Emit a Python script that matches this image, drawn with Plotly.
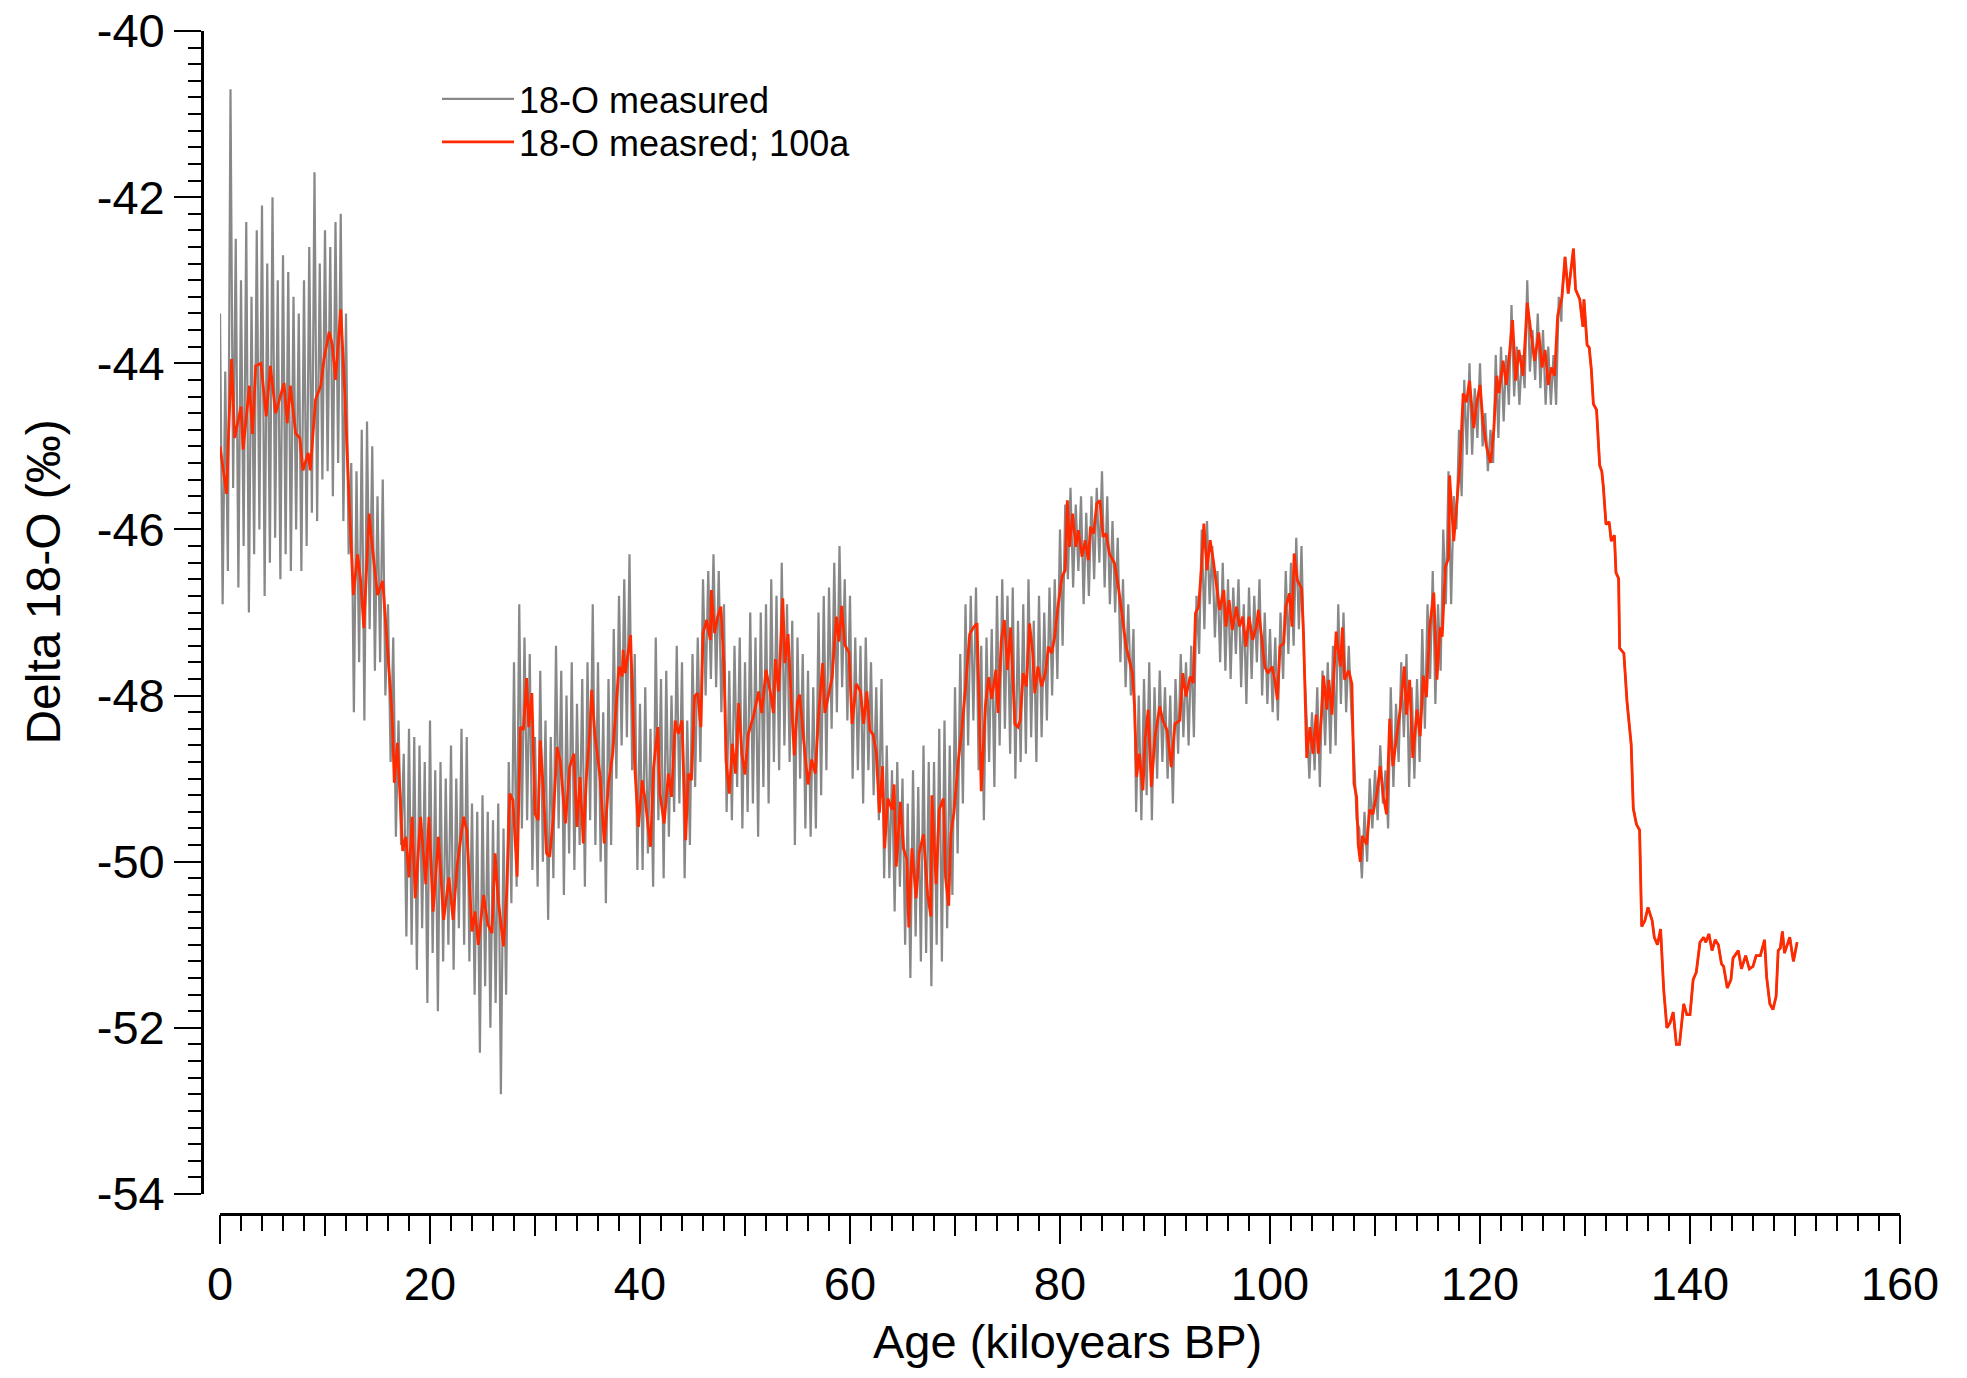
import plotly.graph_objects as go

# ---------------- data ----------------
# 100-year smoothed series (red): age in ka BP, delta 18-O in permil
red_age = [0.0, 0.63, 0.8, 1.1, 1.4, 2.0, 2.2, 2.8, 3.1, 3.4, 3.9, 4.4, 4.8, 5.3, 6.1, 6.4, 6.7, 7.2, 7.6, 7.9,
           8.4, 8.6, 9.1, 9.6, 9.9, 10.4, 10.7, 11.0, 11.5, 11.8, 12.3, 12.7, 13.1, 13.4, 13.7, 14.2, 14.5, 15.0, 15.5, 15.8,
           16.1, 16.4, 16.6, 16.9, 17.4, 17.7, 18.0, 18.3, 18.6, 19.1, 19.6, 19.9, 20.3, 20.8, 21.3, 21.8, 22.2, 22.6, 23.2, 23.5,
           24.0, 24.3, 24.6, 25.1, 25.5, 25.9, 26.2, 26.5, 27.0, 27.3, 27.6, 27.9, 28.3, 28.6, 28.9, 29.2, 29.4, 29.7, 30.0, 30.3,
           30.5, 30.8, 31.1, 31.4, 31.75, 32.1, 32.4, 32.9, 33.3, 33.7, 34.0, 34.3, 34.6, 34.9, 35.2, 35.4, 35.7, 36.2, 36.6, 37.0,
           37.4, 37.8, 38.0, 38.3, 38.4, 38.6, 39.1, 39.3, 39.5, 39.85, 40.2, 40.5, 41.0, 41.3, 41.7, 41.9, 42.3, 42.7, 43.0, 43.35,
           43.65, 44.0, 44.35, 44.6, 44.9, 45.2, 45.5, 45.8, 46.0, 46.35, 46.7, 46.8, 47.1, 47.4, 47.7, 48.0, 48.2, 48.5, 48.8, 49.1,
           49.4, 49.7, 50.0, 50.3, 50.8, 51.3, 51.6, 52.0, 52.4, 52.7, 52.9, 53.2, 53.6, 53.8, 54.1, 54.4, 54.7, 55.0, 55.2, 55.6,
           56.0, 56.35, 56.7, 57.0, 57.4, 57.6, 58.0, 58.3, 58.7, 58.95, 59.2, 59.5, 59.9, 60.2, 60.6, 61.0, 61.3, 61.6, 61.9, 62.2,
           62.5, 62.8, 63.1, 63.3, 63.6, 64.0, 64.2, 64.4, 64.8, 65.1, 65.4, 65.6, 65.9, 66.3, 66.6, 67.0, 67.4, 67.7, 67.8, 68.2,
           68.5, 68.9, 69.1, 69.4, 69.6, 69.9, 70.3, 70.6, 71.0, 71.2, 71.4, 71.75, 72.1, 72.3, 72.5, 72.9, 73.2, 73.5, 73.9, 74.1,
           74.4, 74.7, 75.0, 75.3, 75.7, 76.0, 76.2, 76.5, 76.8, 77.1, 77.4, 77.6, 77.9, 78.25, 78.6, 78.9, 79.2, 79.5, 79.8, 80.2,
           80.5, 80.7, 80.9, 81.2, 81.5, 81.75, 82.1, 82.4, 82.7, 82.9, 83.2, 83.5, 83.8, 84.1, 84.4, 84.7, 85.2, 85.6, 85.8, 86.0,
           86.3, 86.6, 86.9, 87.1, 87.3, 87.55, 87.9, 88.1, 88.4, 88.7, 89.05, 89.5, 89.8, 90.2, 90.6, 90.95, 91.4, 91.7, 92.0, 92.4,
           92.7, 92.9, 93.2, 93.5, 93.7, 94.0, 94.3, 94.6, 94.9, 95.2, 95.6, 95.8, 96.1, 96.4, 96.8, 97.1, 97.4, 97.7, 98.0, 98.35,
           98.7, 98.9, 99.2, 99.5, 99.8, 100.2, 100.5, 100.7, 100.95, 101.3, 101.5, 101.85, 102.1, 102.3, 102.6, 103.0, 103.2, 103.5, 103.8, 104.1,
           104.4, 104.6, 104.9, 105.1, 105.4, 105.6, 105.9, 106.1, 106.3, 106.7, 106.9, 107.1, 107.5, 107.8, 108.0, 108.25, 108.4, 108.6, 108.8, 109.2,
           109.5, 109.8, 110.2, 110.5, 110.8, 111.1, 111.4, 111.7, 112.1, 112.4, 112.8, 113.0, 113.3, 113.6, 114.0, 114.3, 114.6, 114.9, 115.2, 115.6,
           115.9, 116.2, 116.4, 116.7, 117.0, 117.1, 117.5, 117.8, 118.1, 118.4, 118.7, 119.0, 119.4, 119.7, 120.0, 120.3, 120.6, 121.0, 121.3, 121.6,
           121.8, 122.2, 122.5, 122.8, 123.1, 123.4, 123.7, 124.1, 124.5, 124.9, 125.2, 125.6, 125.9, 126.2, 126.5, 126.8, 127.1, 127.4, 127.8, 128.1,
           128.4, 128.9, 129.1, 129.5, 129.8, 129.9, 130.2, 130.4, 130.6, 130.8, 131.1, 131.4, 131.6, 131.75, 132.0, 132.3, 132.5, 132.8, 132.95, 133.2,
           133.3, 133.7, 134.0, 134.4, 134.6, 134.9, 135.2, 135.4, 135.7, 136.0, 136.4, 136.6, 136.9, 137.2, 137.5, 137.8, 138.1, 138.4, 138.7, 139.0,
           139.4, 139.7, 140.0, 140.3, 140.6, 140.95, 141.3, 141.5, 141.8, 142.1, 142.4, 142.7, 143.0, 143.2, 143.55, 143.9, 144.1, 144.6, 144.9, 145.3,
           145.65, 146.0, 146.3, 146.7, 147.1, 147.3, 147.6, 147.9, 148.2, 148.4, 148.6, 148.8, 149.0, 149.5, 149.85, 150.2]
red_d18o = [-45.0, -45.57, -44.9, -43.95, -44.9, -44.52, -45.04, -44.27, -44.85, -44.03, -44.0, -44.64, -44.03, -44.6, -44.24, -44.72, -44.27, -44.84, -44.9, -45.29,
            -45.08, -45.29, -44.44, -44.27, -43.95, -43.62, -43.78, -44.2, -43.35, -44.12, -45.65, -46.79, -46.3, -46.62, -47.19, -45.81, -46.2, -46.79, -46.62, -47.19,
            -47.76, -48.25, -49.05, -48.57, -49.87, -49.7, -50.19, -49.46, -50.44, -49.46, -50.27, -49.46, -50.6, -49.7, -50.7, -50.19, -50.7, -50.03, -49.46, -49.62,
            -50.84, -50.6, -51.0, -50.4, -50.75, -50.86, -49.9, -50.46, -51.02, -50.38, -49.18, -49.26, -50.18, -48.38, -48.41, -47.79, -48.38, -47.97, -49.42, -49.5,
            -48.54, -49.14, -49.9, -49.94, -49.46, -48.62, -48.78, -49.54, -48.86, -48.7, -49.58, -48.98, -49.78, -48.98, -48.46, -47.93, -48.46, -48.98, -49.78, -49.06,
            -48.7, -48.05, -47.65, -47.77, -47.45, -47.73, -47.27, -48.05, -48.86, -49.58, -49.02, -49.26, -49.82, -48.86, -48.38, -49.18, -49.54, -48.94, -49.22, -48.3,
            -48.46, -48.3, -49.74, -48.94, -49.02, -48.01, -47.97, -48.38, -47.25, -47.09, -47.33, -46.73, -47.25, -47.05, -46.93, -47.65, -48.78, -49.18, -48.58, -48.94,
            -48.09, -48.7, -48.95, -48.47, -48.25, -47.95, -48.21, -47.69, -47.95, -48.21, -47.56, -47.95, -46.83, -47.61, -47.26, -48.04, -48.72, -48.08, -47.99, -48.55,
            -49.07, -48.77, -48.94, -48.25, -47.61, -48.21, -47.95, -47.78, -47.05, -47.35, -46.92, -47.39, -47.48, -48.34, -47.86, -47.95, -48.34, -47.95, -48.42, -48.47,
            -48.68, -49.41, -48.85, -49.84, -49.24, -49.37, -49.07, -50.06, -49.28, -49.84, -49.97, -50.79, -49.84, -50.44, -49.89, -49.67, -50.4, -50.66, -49.2, -50.27,
            -49.37, -49.24, -50.19, -50.53, -49.67, -49.41, -48.81, -48.47, -47.91, -47.61, -47.26, -47.18, -47.13, -48.12, -49.15, -48.12, -47.78, -48.04, -47.69, -48.21,
            -47.35, -47.09, -47.69, -47.18, -48.34, -48.38, -48.3, -47.73, -47.89, -47.13, -47.49, -47.97, -47.65, -47.89, -47.73, -47.41, -47.49, -47.29, -46.93, -46.57,
            -46.49, -45.65, -46.21, -45.81, -46.21, -46.01, -46.33, -46.13, -46.37, -45.97, -46.05, -45.69, -45.65, -46.09, -46.05, -46.29, -46.41, -46.73, -46.93, -47.13,
            -47.41, -47.57, -47.73, -48.13, -48.98, -48.7, -49.14, -48.54, -48.17, -49.1, -48.5, -48.13, -48.3, -48.42, -48.86, -48.34, -48.3, -47.73, -48.01, -47.77,
            -47.85, -47.01, -46.93, -46.41, -45.93, -46.49, -46.13, -46.37, -46.69, -46.97, -46.73, -47.17, -46.85, -47.21, -46.93, -47.17, -47.05, -47.41, -47.05, -47.33,
            -47.17, -46.97, -47.29, -47.65, -47.73, -47.65, -47.85, -48.05, -47.41, -47.37, -46.93, -46.77, -47.17, -46.29, -46.61, -46.71, -47.29, -48.75, -48.38, -48.7,
            -48.23, -48.7, -48.23, -47.76, -48.17, -47.81, -48.23, -47.76, -47.23, -47.65, -47.18, -47.81, -47.7, -47.86, -49.06, -49.22, -49.79, -50.0, -49.69, -49.79,
            -49.37, -49.43, -49.16, -48.85, -49.22, -49.43, -48.28, -48.85, -48.43, -48.17, -47.65, -48.23, -47.81, -48.75, -48.17, -48.49, -47.76, -48.02, -47.18, -46.76,
            -47.81, -47.18, -47.29, -46.45, -46.35, -45.35, -46.14, -45.62, -45.2, -44.36, -44.47, -44.21, -44.78, -44.47, -44.26, -44.73, -44.99, -45.2, -44.83, -44.15,
            -44.36, -43.97, -44.26, -43.89, -43.48, -44.21, -43.84, -44.15, -43.27, -43.68, -43.97, -43.63, -44.05, -43.84, -44.26, -44.05, -44.15, -43.42, -43.21, -42.72,
            -43.16, -42.62, -43.11, -43.23, -43.56, -43.23, -43.78, -43.81, -44.07, -44.49, -44.56, -45.23, -45.3, -45.49, -45.94, -45.91, -46.14, -46.07, -46.52, -46.59,
            -47.43, -47.49, -48.07, -48.59, -49.36, -49.55, -49.62, -50.78, -50.71, -50.55, -50.71, -50.91, -51.0, -50.81, -51.55, -52.0, -51.94, -51.81, -52.2, -52.2,
            -51.71, -51.84, -51.84, -51.42, -51.33, -50.97, -50.91, -50.97, -50.87, -51.07, -50.94, -51.0, -51.23, -51.26, -51.52, -51.42, -51.16, -51.07, -51.29, -51.13,
            -51.29, -51.26, -51.13, -51.13, -50.94, -51.39, -51.71, -51.78, -51.62, -51.07, -51.04, -50.84, -51.1, -50.91, -51.2, -50.97]

# Measured series (grey): upper spikes at ages 0, 0.5, 1.0 ... and lower spikes at 0.25, 0.75 ...
gray_step_ka = 0.25
gray_hi = [-43.4, -44.1, -40.7, -42.5, -43.0, -42.3, -43.2, -42.4, -42.1, -42.8, -42.0, -43.0, -42.7, -42.9, -43.2, -43.4,
           -43.0, -42.6, -41.7, -42.8, -42.4, -42.6, -42.3, -42.2,
           -43.4, -45.2, -45.3, -44.8, -44.7, -45.0, -45.6, -45.4, -46.9, -47.3,
           -48.3, -48.7, -48.4, -48.5, -48.6, -48.8, -48.3, -48.9, -48.8, -49.0, -48.6, -49.0, -48.4, -48.5, -49.3, -49.4,
           -49.2, -49.4, -49.5, -49.3, -49.6, -48.8,
           -47.6, -46.9, -47.3, -47.5,
           -48.5, -47.7, -48.3, -48.5, -47.4, -47.7, -48.0, -47.6, -48.1, -47.8, -47.6, -46.9, -47.6, -48.2,
           -47.8, -47.2, -46.8, -46.6, -46.3, -47.5,
           -48.1, -47.9, -48.4, -47.3, -47.8, -47.7, -48.0, -47.4, -47.6, -48.3, -47.5,
           -47.3, -46.6, -46.5, -46.3, -46.5, -46.9, -47.7, -47.4, -47.3, -47.6,
           -47.0, -47.3, -47.0, -46.9, -46.6, -46.8, -46.4, -46.9, -47.1, -47.3, -47.5, -47.7, -47.9, -47.0,
           -46.8, -46.7, -46.4, -46.2, -46.6, -46.8, -47.3, -47.4, -47.3, -47.6, -47.9, -47.8,
           -48.6, -48.9, -48.8, -49.0, -49.3, -48.9, -49.1, -48.6, -48.8, -48.8, -48.4, -48.3, -48.6, -47.9,
           -47.5, -46.9, -46.8, -46.7, -47.4, -47.3, -47.2, -46.8, -46.6, -46.8, -46.7, -47.1,
           -46.9, -46.6, -47.1, -46.8, -47.0, -46.7, -46.6, -46.0,
           -45.7, -45.5, -45.7, -45.6, -45.8, -45.6, -45.5, -45.3, -45.6, -45.9, -46.1, -46.6, -46.9, -47.2,
           -48.0, -47.8, -47.6, -47.9, -47.7, -47.9, -48.0, -47.8, -47.5, -47.6, -47.4, -46.8,
           -46.0, -45.9, -46.2, -46.5, -46.4, -46.6, -46.7, -46.6, -46.9, -46.7, -46.8, -46.6, -47.0, -47.2, -47.3, -47.0,
           -46.5, -46.4, -46.1, -46.2,
           -48.3, -48.2, -47.9, -47.7, -47.6, -47.4, -46.9, -47.0, -47.4, -48.7, -49.6, -49.4, -49.0, -48.9, -48.6, -48.9,
           -47.9, -48.1, -47.6, -47.5,
           -47.9, -47.8, -47.2, -46.9, -46.5, -46.9, -46.0, -45.3, -45.6, -44.8, -44.2, -44.0, -44.3, -44.0, -44.6, -44.8,
           -43.9, -43.8, -43.9, -43.3,
           -43.8, -43.9, -43.0, -43.6, -43.4, -43.6, -43.8, -43.9, -43.2]
gray_lo = [-46.9, -46.5, -45.5, -46.7, -46.2, -47.0, -46.3, -46.0, -46.8, -46.4, -46.1, -46.6, -46.3, -46.5, -46.0, -46.5,
           -46.2, -45.8, -45.9, -45.4, -45.3, -45.6, -45.2, -45.9,
           -46.3, -48.2, -47.6, -48.3, -47.2, -47.7, -47.6, -48.0, -48.8, -49.7,
           -49.8, -50.9, -51.0, -51.3, -50.8, -51.7, -51.1, -51.8, -51.2, -51.0, -51.3, -50.8, -51.0, -51.2, -51.6, -52.3,
           -51.5, -52.0, -51.7, -52.8, -51.6, -50.5,
           -50.3, -49.6, -49.5, -50.1,
           -50.3, -50.0, -50.7, -50.2, -49.6, -50.4, -49.9, -50.1, -49.8, -50.3, -49.5, -49.8, -50.0, -50.5,
           -49.8, -49.0, -48.6, -48.5, -48.9, -50.1,
           -50.1, -49.9, -50.3, -49.5, -50.2, -49.7, -49.4, -49.3, -50.2, -49.8, -49.1,
           -48.8, -48.0, -47.8, -47.9, -48.2, -49.4, -49.5, -49.1, -49.6, -49.4,
           -49.3, -49.7, -49.1, -49.3, -48.8, -48.9, -48.6, -48.8, -49.8, -49.0, -49.6, -49.7, -49.6, -49.2,
           -48.9, -48.4, -48.2, -47.9, -48.3, -49.0, -48.9, -49.3, -48.9, -49.2, -49.5, -50.2,
           -50.2, -50.6, -50.3, -51.0, -51.4, -50.9, -51.2, -51.1, -51.5, -51.0, -51.2, -50.8, -50.4, -49.9,
           -49.3, -48.6, -48.3, -48.9, -49.5, -48.8, -49.1, -48.6, -48.4, -48.7, -49.0, -48.8,
           -48.7, -48.5, -48.8, -48.5, -48.3, -48.0, -47.8, -47.4,
           -46.6, -46.7, -46.5, -46.9, -46.8, -46.6, -46.4, -46.7, -46.9, -47.0, -47.6, -47.9, -48.0, -49.4,
           -49.5, -49.2, -49.5, -49.0, -48.8, -49.0, -49.3, -48.7, -48.5, -48.6, -48.5, -47.5,
           -47.2, -46.9, -47.3, -47.6, -47.7, -47.8, -47.5, -47.9, -48.1, -47.8, -47.6, -48.0, -48.1, -48.2, -48.3, -47.8,
           -47.5, -47.4, -47.2, -47.6,
           -49.0, -48.9, -49.1, -48.6, -48.7, -48.6, -48.1, -48.2, -48.2, -49.5, -50.2, -50.0, -49.6, -49.5, -49.3, -49.6,
           -49.1, -48.8, -48.5, -49.1,
           -49.0, -48.8, -48.4, -47.8, -48.1, -47.7, -46.9, -46.9, -46.0, -45.6, -45.1, -45.1, -44.9, -45.0, -45.3, -45.2,
           -44.9, -44.7, -44.5, -44.4,
           -44.5, -44.3, -44.1, -44.2, -44.3, -44.5, -44.5, -44.5, -43.5]

x_tick_values = [0, 20, 40, 60, 80, 100, 120, 140, 160]
x_tick_labels = ["0", "20", "40", "60", "80", "100", "120", "140", "160"]
y_tick_values = [-54, -52, -50, -48, -46, -44, -42, -40]
y_tick_labels = ["-54", "-52", "-50", "-48", "-46", "-44", "-42", "-40"]

# ---------------- build the grey series ----------------
gray_age, gray_val = [], []
for k, (hi, lo) in enumerate(zip(gray_hi, gray_lo)):
    gray_age += [2 * k * gray_step_ka, (2 * k + 1) * gray_step_ka]
    gray_val += [hi, lo]
last_gray_age = gray_age[-1]
for a, v in zip(red_age, red_d18o):
    if a > last_gray_age:
        gray_age.append(a)
        gray_val.append(v)

FONT = "Liberation Sans, Arial, Helvetica, sans-serif"

fig = go.Figure()
fig.add_trace(go.Scatter(x=gray_age, y=gray_val, mode="lines", name="18-O measured",
                         line=dict(color="#888888", width=2.2), legend="legend"))
fig.add_trace(go.Scatter(x=red_age, y=red_d18o, mode="lines", name="18-O measred; 100a",
                         line=dict(color="#ff2a00", width=2.8), legend="legend2"))
# invisible helper trace on an overlay axis to draw the 10-ka intermediate ticks
fig.add_trace(go.Scatter(x=[0, 160], y=[-54, -54], xaxis="x2", mode="lines",
                         line=dict(width=0), showlegend=False, hoverinfo="skip"))

# the page body adds an 8 px margin on every side, so the figure is 16 px smaller
W, H = 1951, 1362
ml, mr, mt, mb = 194, 59, 23, 156
pw, ph = W - ml - mr, H - mt - mb
xd0 = 18 / pw
yd0 = 20 / ph

legend_common = dict(xanchor="left", yanchor="top", font=dict(size=36, family=FONT),
                     bgcolor="rgba(0,0,0,0)", itemwidth=72, borderwidth=0)

fig.update_layout(
    width=W, height=H,
    margin=dict(l=ml, r=mr, t=mt, b=mb, autoexpand=False),
    paper_bgcolor="white", plot_bgcolor="white",
    font=dict(family=FONT, color="black", size=47),
    showlegend=True,
    legend=dict(x=0.1384, y=0.9679, **legend_common),
    legend2=dict(x=0.1384, y=0.9315, **legend_common),
    xaxis=dict(range=[0, 160], domain=[xd0, 1], anchor="free", position=0, automargin=False,
               showline=True, linecolor="black", linewidth=2.7, ticklabeloverflow="allow",
               ticks="outside", ticklen=28, tickwidth=2.2, tickcolor="black",
               tickvals=x_tick_values, ticktext=x_tick_labels, tickfont=dict(size=47, family=FONT),
               showgrid=False, zeroline=False,
               minor=dict(ticks="outside", dtick=2, tick0=0, ticklen=15, tickwidth=2.2,
                          tickcolor="black", showgrid=False)),
    xaxis2=dict(range=[0, 160], domain=[xd0, 1], anchor="free", position=0, overlaying="x",
                automargin=False, showline=False, ticks="outside", dtick=10, tick0=0, ticklen=21,
                tickwidth=2.2, tickcolor="black", showticklabels=False, showgrid=False, zeroline=False),
    yaxis=dict(range=[-54, -40], domain=[yd0, 1], anchor="free", position=0, automargin=False,
               showline=True, linecolor="black", linewidth=2.7, ticklabeloverflow="allow",
               ticks="outside", ticklen=27, tickwidth=2.2, tickcolor="black",
               tickvals=y_tick_values, ticktext=y_tick_labels, tickfont=dict(size=47, family=FONT),
               showgrid=False, zeroline=False,
               minor=dict(ticks="outside", dtick=0.2, tick0=-54, ticklen=13, tickwidth=2.2,
                          tickcolor="black", showgrid=False)),
    annotations=[
        dict(text="Age (kiloyears BP)", xref="paper", yref="paper", x=0.51, y=-0.108,
             xanchor="center", yanchor="middle", showarrow=False, font=dict(size=47, family=FONT)),
        dict(text="Delta 18-O (‰)", xref="paper", yref="paper", x=-0.0939, y=0.5342,
             xanchor="center", yanchor="middle", textangle=-90, showarrow=False,
             font=dict(size=48, family=FONT)),
    ],
)

fig.write_html("out.html")
